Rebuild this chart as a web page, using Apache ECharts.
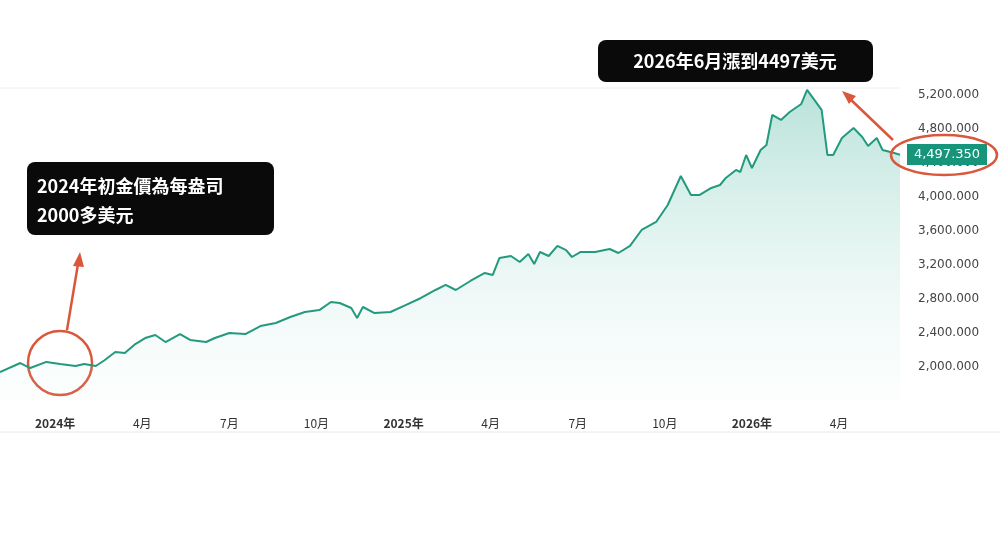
<!DOCTYPE html>
<html><head><meta charset="utf-8">
<script src="https://cdn.jsdelivr.net/npm/echarts@6/dist/echarts.min.js"></script>
<style>html,body{margin:0;padding:0;background:#fff}#c{width:1000px;height:548px}</style>
</head><body><div id="c"></div>
<script>
// months since Jan 2024
const months = [-1.9,-1.2,-0.86,-0.3,0.17,0.7,1.0,1.4,1.7,2.07,2.4,2.76,3.1,3.45,3.8,4.3,4.65,5.2,5.5,6.0,6.55,7.07,7.6,8.1,8.6,9.1,9.5,9.8,10.2,10.4,10.6,11.0,11.55,12.07,12.6,13.1,13.45,13.8,14.3,14.8,15.07,15.3,15.7,16.0,16.3,16.5,16.7,17.0,17.3,17.6,17.8,18.1,18.6,19.1,19.4,19.8,20.2,20.7,21.1,21.55,21.9,22.2,22.6,22.9,23.1,23.45,23.6,23.8,24.0,24.3,24.5,24.7,25.0,25.3,25.7,25.9,26.1,26.4,26.6,26.8,27.1,27.5,27.8,28.0,28.3,28.5,28.9,29.1];
const prices = [1941,2047,1988,2060,2035,2012,2035,2012,2080,2176,2165,2270,2341,2376,2294,2388,2318,2294,2341,2400,2388,2482,2518,2588,2647,2670,2765,2753,2694,2576,2706,2635,2647,2729,2812,2906,2965,2906,3012,3106,3082,3282,3306,3235,3329,3212,3353,3306,3424,3376,3294,3353,3353,3388,3341,3424,3612,3706,3906,4247,4024,4024,4106,4141,4224,4318,4294,4494,4341,4553,4612,4965,4906,5000,5094,5259,5165,5024,4494,4494,4694,4812,4706,4600,4694,4553,4518,4497.35];
const xTickValues = [0,3,6,9,12,15,18,21,24,27];
const xTickLabels = ['2024年','4月','7月','10月','2025年','4月','7月','10月','2026年','4月'];
const yTickValues = [2000,2400,2800,3200,3600,4000,4400,4800,5200];
const lastPrice = '4,497.350';
const note1 = ['2024年初金價為每盎司','2000多美元'];
const note2 = '2026年6月漲到4497美元';

const chart = echarts.init(document.getElementById('c'));
const font = '"Noto Sans CJK TC","Noto Sans",sans-serif';
chart.setOption({
  animation:false,
  grid:{left:0,right:100,top:88,bottom:148},
  xAxis:{type:'value',min:-1.9,max:29.1,
    axisLine:{show:false},axisTick:{show:false},splitLine:{show:false},
    axisLabel:{customValues:xTickValues,margin:17,color:'#333',fontSize:12,fontFamily:font,
      formatter:v=>{const i=xTickValues.indexOf(v);const t=i<0?'':xTickLabels[i];return t.indexOf('年')>0?'{b|'+t+'}':t;},
      rich:{b:{fontWeight:'bold',fontSize:12,color:'#333',fontFamily:font}}}},
  yAxis:{type:'value',position:'right',min:1612,max:5282,
    axisLine:{show:false},axisTick:{show:false},splitLine:{show:false},
    axisLabel:{customValues:yTickValues,color:'#444',fontSize:12,margin:18,fontFamily:'"DejaVu Sans"',
      formatter:v=>v.toLocaleString('en-US')+'.000'}},
  series:[{type:'line',data:months.map((m,i)=>[m,prices[i]]),symbol:'none',
    lineStyle:{color:'#239a7e',width:2},
    areaStyle:{color:new echarts.graphic.LinearGradient(0,0,0,1,[{offset:0,color:'rgba(70,180,155,0.55)'},{offset:1,color:'rgba(200,235,230,0.08)'}])}
  }],
  graphic:[
    {type:'line',shape:{x1:0,y1:88,x2:900,y2:88},style:{stroke:'#eee'}},
    {type:'line',shape:{x1:0,y1:432,x2:1000,y2:432},style:{stroke:'#e8e8e8'}},
    {type:'rect',z:100,shape:{x:907,y:144,width:80,height:21},style:{fill:'#17957a'}},
    {type:'text',z:101,x:947,y:155,style:{text:lastPrice,fill:'#fff',font:'13px "DejaVu Sans"',align:'center',verticalAlign:'middle'}},
    {type:'ellipse',z:102,shape:{cx:944,cy:155,rx:53,ry:20},style:{fill:'none',stroke:'#d9573a',lineWidth:2.5}},
    {type:'circle',shape:{cx:60,cy:363,r:32},style:{fill:'none',stroke:'#d9573a',lineWidth:2.5}},
    {type:'line',shape:{x1:67,y1:330,x2:79,y2:258},style:{stroke:'#d9573a',lineWidth:2.5}},
    {type:'polygon',shape:{points:[[80,252],[73,266],[84,267]]},style:{fill:'#d9573a'}},
    {type:'line',shape:{x1:893,y1:140,x2:848,y2:97},style:{stroke:'#d9573a',lineWidth:2.5}},
    {type:'polygon',shape:{points:[[842,91],[849,104],[856,96]]},style:{fill:'#d9573a'}},
    {type:'rect',shape:{x:27,y:162,width:247,height:73,r:8},style:{fill:'#0a0a0a'}},
    {type:'text',x:37,y:172,style:{text:note1.join('\n'),fill:'#fff',font:'bold 18px '+font,lineHeight:29}},
    {type:'rect',shape:{x:598,y:40,width:275,height:42,r:8},style:{fill:'#0a0a0a'}},
    {type:'text',x:735,y:61,style:{text:note2,fill:'#fff',font:'bold 18px '+font,align:'center',verticalAlign:'middle'}}
  ]
});
</script></body></html>
